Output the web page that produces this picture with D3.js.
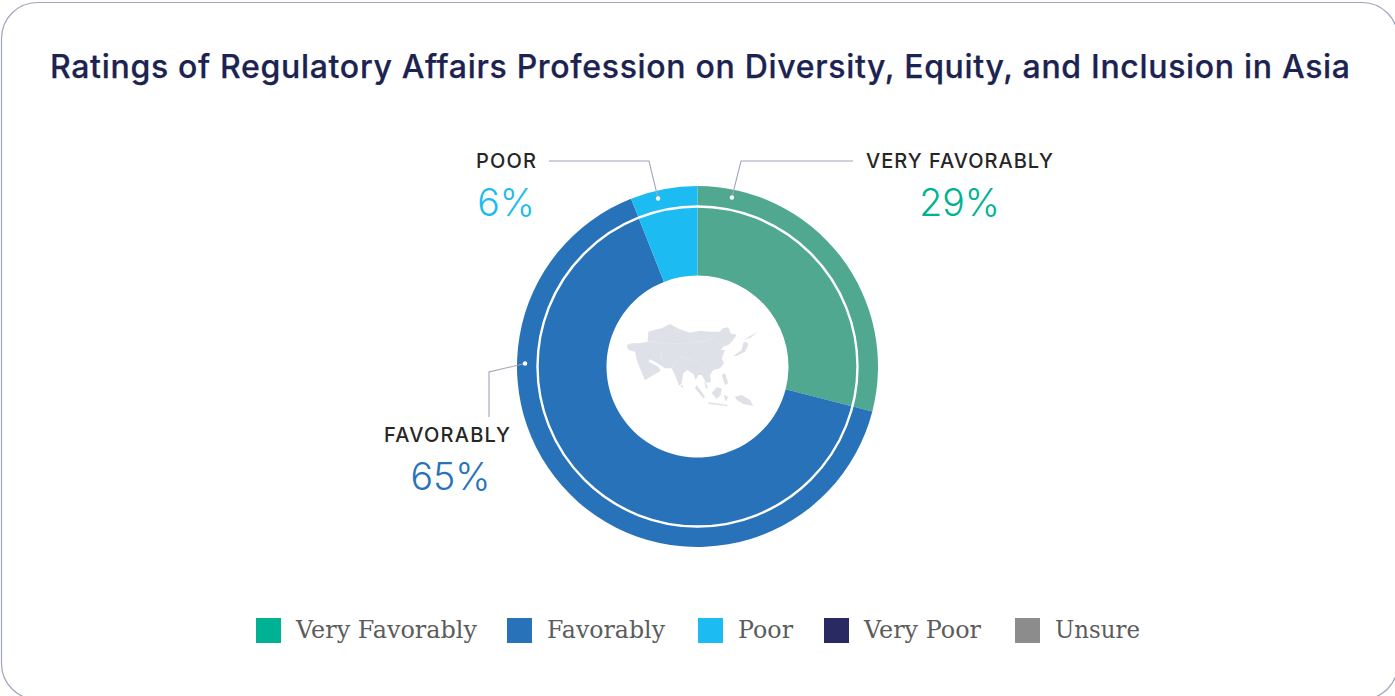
<!DOCTYPE html>
<html><head><meta charset="utf-8">
<script src="https://cdn.jsdelivr.net/npm/d3@7/dist/d3.min.js"></script>
<style>html,body{margin:0;padding:0;background:#fff;overflow:hidden}svg{display:block}</style>
</head><body><svg id="c" width="1395" height="696"></svg>
<script>
const titleText = "Ratings of Regulatory Affairs Profession on Diversity, Equity, and Inclusion in Asia";
const categories = ["Very Favorably","Favorably","Poor","Very Poor","Unsure"];
const values = [29,65,6,0,0];
const legendColors = ["#00b294","#2872b9","#1cbcf3","#2a2a62","#8c8c8c"];
const wedgeColors = ["#4fa88f","#2872b9","#1cbcf3","#2a2a62","#8c8c8c"];
const legendX = [256,507,698,824,1015];
const legendTextWidth = [181,118,55,117,85];

const mapMain = [[80,135],[95,130],[120,130],[143,125],[145,95],[170,88],[185,85],[210,72],[225,80],[240,88],[270,98],[300,92],[330,95],[360,95],[368,85],[385,82],[392,100],[410,105],[395,125],[385,135],[370,140],[362,150],[375,150],[365,175],[372,190],[360,205],[340,210],[330,225],[333,245],[320,250],[305,225],[295,225],[287,240],[280,222],[262,210],[250,220],[245,250],[237,257],[225,225],[215,205],[195,205],[180,195],[170,188],[150,178],[145,185],[175,200],[182,212],[135,240],[128,225],[110,180],[105,155],[85,150]];
const mapIslands = [
 [[400,168],[425,150],[430,128],[440,125],[445,135],[435,155],[410,168]],
 [[290,255],[315,290],[310,295],[285,265]],
 [[335,280],[350,262],[365,265],[362,285],[350,297]],
 [[325,307],[385,315],[380,318],[325,312]],
 [[370,285],[385,290],[378,305]],
 [[405,290],[425,285],[450,300],[460,318],[430,312],[410,300]],
 [[365,225],[375,220],[385,250],[375,255]],
 [[242,254],[248,256],[248,263],[243,262]],
 [[312,240],[324,262],[318,268]],
 [[432,120],[450,108],[475,95],[450,114]]
];
const mapBorders = [
 [[145,125],[200,130],[255,130],[300,125],[345,115],[370,140]],
 [[215,205],[240,170],[290,185],[320,210]],
 [[180,150],[190,190]]
];

const svg = d3.select("#c");
svg.append("rect").attr("x",1.5).attr("y",2.5).attr("width",1396.5).attr("height",697).attr("rx",36)
  .attr("fill","#fff").attr("stroke","#a0a5bc").attr("stroke-width",1.2);

svg.append("text").attr("x",700).attr("y",78).attr("text-anchor","middle")
  .attr("font-family","Inter").attr("font-weight",500).attr("font-size",32)
  .attr("fill","#1c2350").attr("stroke","#1c2350").attr("stroke-width",0.25)
  .attr("textLength",1300).attr("lengthAdjust","spacing").text(titleText);

const cx=697.5, cy=366.5, R=180.5, r0=91;
const g = svg.append("g").attr("transform",`translate(${cx},${cy})`);
const pie = d3.pie().sort(null).value(d=>d)(values);
const arc = d3.arc().innerRadius(r0).outerRadius(R);
g.selectAll("path.w").data(pie).join("path").attr("class","w").attr("d",arc)
  .attr("fill",(d,i)=>wedgeColors[i]);
g.append("circle").attr("r",160).attr("fill","none").attr("stroke","#fff").attr("stroke-width",2.4);

// map
const mx=d3.scaleLinear().domain([0,600]).range([600,800]);
const my=d3.scaleLinear().domain([0,390]).range([300,430]);
const ml=d3.line().x(d=>mx(d[0])).y(d=>my(d[1])).curve(d3.curveLinearClosed);
svg.selectAll("path.m").data([mapMain,...mapIslands]).join("path").attr("class","m")
  .attr("d",ml).attr("fill","#dfe1e8");
const mb=d3.line().x(d=>mx(d[0])).y(d=>my(d[1]));
svg.selectAll("path.b").data(mapBorders).join("path").attr("class","b")
  .attr("d",mb).attr("fill","none").attr("stroke","#e8eaef").attr("stroke-width",.6);

// callouts
const dotAngles=[11.5,271,-13.2];
const dotSegments=[[[741,161],[853,161]],[[489,372],[489,417]],[[649,161],[549,161]]];
const lineColor="#a0a5bc";
dotAngles.forEach((a,i)=>{
  const p=d3.pointRadial(a*Math.PI/180,172.5), x=cx+p[0], y=cy+p[1];
  const pts=[[x,y],...dotSegments[i]];
  svg.append("path").attr("d",d3.line()(pts)).attr("fill","none").attr("stroke",lineColor).attr("stroke-width",1.1);
  svg.append("circle").attr("cx",x).attr("cy",y).attr("r",2.2).attr("fill","#fff");
});
const labelNames=["VERY FAVORABLY","FAVORABLY","POOR"];
const labelX=[866,384,476], labelW=[187,126,60], labelY=[168,442,168];
const pctX=[959.5,450.5,506], pctY=[216,490,216];
labelNames.forEach((t,i)=>{
  svg.append("text").attr("x",labelX[i]).attr("y",labelY[i]).attr("font-family","Inter").attr("font-weight",500)
    .attr("font-size",20).attr("fill","#262626").attr("textLength",labelW[i]).attr("lengthAdjust","spacing").text(t);
  svg.append("text").attr("x",pctX[i]).attr("y",pctY[i]).attr("text-anchor","middle").attr("font-family","Inter").attr("font-weight",300)
    .attr("font-size",37.5).attr("fill",legendColors[i]).text(values[i]+"%");
});

// legend
categories.forEach((c,i)=>{
  svg.append("rect").attr("x",legendX[i]).attr("y",618).attr("width",25).attr("height",25).attr("fill",legendColors[i]);
  svg.append("text").attr("x",legendX[i]+40).attr("y",638).attr("font-family","'DejaVu Serif'")
    .attr("font-size",24).attr("fill","#5c5c5c").attr("textLength",legendTextWidth[i]).attr("lengthAdjust","spacingAndGlyphs").text(c);
});
</script></body></html>
